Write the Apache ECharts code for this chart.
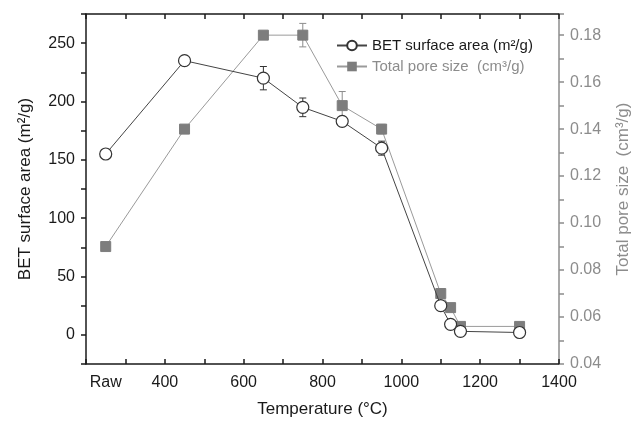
<!DOCTYPE html>
<html>
<head>
<meta charset="utf-8">
<script src="https://cdn.jsdelivr.net/npm/echarts@6/dist/echarts.min.js"></script>
<style>html,body{margin:0;padding:0;background:#fff;}#c{width:640px;height:423px;}</style>
</head>
<body>
<div id="c"></div>
<script>
const temps = [250, 450, 650, 750, 850, 950, 1100, 1125, 1150, 1300];
const betValues = [155, 235, 220, 195, 183, 160, 25, 9, 3, 2];
const betErrors = [0, 4, 10, 8, 4, 6, 3, 3, 2, 2];
const poreValues = [0.09, 0.14, 0.18, 0.18, 0.15, 0.14, 0.07, 0.064, 0.056, 0.056];
const poreErrors = [0, 0, 0, 0.005, 0.006, 0.002, 0, 0, 0, 0];
const xTickLabels = [400, 600, 800, 1000, 1200, 1400];
const rawLabel = 'Raw';
const rawPosition = 250;
const betName = 'BET surface area (m²/g)';
const poreName = 'Total pore size  (cm³/g)';

const FONT = 'Liberation Sans, Arial, sans-serif';
const BLACK = '#1a1a1a';
const GRAY = '#8c8c8c';

function errorSeries(name, vals, errs, yAxisIndex, color) {
  return {
    type: 'custom',
    name: name + '_err',
    yAxisIndex: yAxisIndex,
    z: 1,
    silent: true,
    data: temps.map((t, i) => [t, vals[i], errs[i]]),
    renderItem: function (params, api) {
      const x = api.value(0), y = api.value(1), e = api.value(2);
      if (!e) return null;
      const top = api.coord([x, y + e]);
      const bot = api.coord([x, y - e]);
      const cap = 3.5;
      const style = { stroke: color, lineWidth: 1 };
      return {
        type: 'group',
        children: [
          { type: 'line', shape: { x1: top[0], y1: top[1], x2: bot[0], y2: bot[1] }, style: style },
          { type: 'line', shape: { x1: top[0] - cap, y1: top[1], x2: top[0] + cap, y2: top[1] }, style: style },
          { type: 'line', shape: { x1: bot[0] - cap, y1: bot[1], x2: bot[0] + cap, y2: bot[1] }, style: style }
        ]
      };
    }
  };
}

const chart = echarts.init(document.getElementById('c'), null, { renderer: 'canvas' });
const option = {
  animation: false,
  backgroundColor: '#fff',
  textStyle: { fontFamily: FONT },
  grid: { left: 86, right: 75, top: 14, bottom: 59 },
  legend: {
    orient: 'vertical',
    left: 331,
    top: 33,
    itemWidth: 30,
    itemHeight: 12,
    itemGap: 6,
    textStyle: { fontFamily: FONT, fontSize: 15 },
    data: [
      { name: betName, textStyle: { color: BLACK } },
      { name: poreName, textStyle: { color: GRAY } }
    ]
  },
  xAxis: [
    {
      type: 'value', min: 200, max: 1400, interval: 100, position: 'bottom',
      name: 'Temperature (°C)', nameLocation: 'middle', nameGap: 37,
      nameTextStyle: { fontFamily: FONT, fontSize: 17, color: BLACK },
      axisLine: { onZero: false, lineStyle: { color: BLACK, width: 1.5 } },
      axisTick: { inside: true, length: 5, lineStyle: { color: BLACK, width: 1.5 } },
      axisLabel: {
        margin: 11, fontFamily: FONT, fontSize: 16, color: BLACK,
        formatter: v => xTickLabels.indexOf(Math.round(v)) >= 0 ? String(Math.round(v)) : ''
      },
      splitLine: { show: false }
    },
    {
      type: 'value', min: 200, max: 1400, interval: 50, position: 'bottom',
      axisLine: { show: false, onZero: false }, axisTick: { show: false }, splitLine: { show: false },
      axisLabel: {
        margin: 11, fontFamily: FONT, fontSize: 16, color: BLACK,
        formatter: v => Math.round(v) === rawPosition ? rawLabel : ''
      }
    },
    {
      type: 'value', min: 200, max: 1400, interval: 100, position: 'top',
      axisLine: { onZero: false, lineStyle: { color: BLACK, width: 1.5 } },
      axisTick: { inside: true, length: 5, lineStyle: { color: BLACK, width: 1.5 } },
      axisLabel: { show: false }, splitLine: { show: false }
    }
  ],
  yAxis: [
    {
      type: 'value', min: -25, max: 275, interval: 25, position: 'left',
      name: betName, nameLocation: 'middle', nameGap: 52,
      nameTextStyle: { fontFamily: FONT, fontSize: 17, color: BLACK },
      axisLine: { show: true, onZero: false, lineStyle: { color: BLACK, width: 1.5 } },
      axisTick: { show: true, inside: false, length: 5, lineStyle: { color: BLACK, width: 1.5 } },
      axisLabel: {
        margin: 11, fontFamily: FONT, fontSize: 16, color: BLACK,
        formatter: v => (Math.round(v) % 50 === 0 && v >= 0 && v <= 250) ? String(Math.round(v)) : ''
      },
      splitLine: { show: false }
    },
    {
      type: 'value', min: 0.04, max: 0.189, interval: 0.01, position: 'right',
      name: poreName, nameLocation: 'middle', nameGap: 56,
      nameTextStyle: { fontFamily: FONT, fontSize: 17, color: GRAY },
      axisLine: { show: true, onZero: false, lineStyle: { color: GRAY, width: 1.5 } },
      axisTick: { show: true, inside: false, length: 5, lineStyle: { color: GRAY, width: 1.5 } },
      axisLabel: {
        margin: 11, fontFamily: FONT, fontSize: 16, color: GRAY,
        formatter: v => {
          const k = v * 50;
          return Math.abs(k - Math.round(k)) < 1e-6 ? v.toFixed(2) : '';
        }
      },
      splitLine: { show: false }
    }
  ],
  series: [
    errorSeries(poreName, poreValues, poreErrors, 1, GRAY),
    {
      name: poreName, type: 'line', yAxisIndex: 1, z: 2,
      data: temps.map((t, i) => [t, poreValues[i]]),
      symbol: 'rect', symbolSize: 10,
      lineStyle: { color: '#9a9a9a', width: 1 },
      itemStyle: { color: '#7d7d7d', borderColor: '#7d7d7d' }
    },
    errorSeries(betName, betValues, betErrors, 0, '#333'),
    {
      name: betName, type: 'line', yAxisIndex: 0, z: 3,
      data: temps.map((t, i) => [t, betValues[i]]),
      symbol: 'circle', symbolSize: 12,
      lineStyle: { color: '#444', width: 1 },
      itemStyle: { color: '#fff', borderColor: '#333', borderWidth: 1.2 }
    }
  ]
};
chart.setOption(option);
</script>
</body>
</html>
